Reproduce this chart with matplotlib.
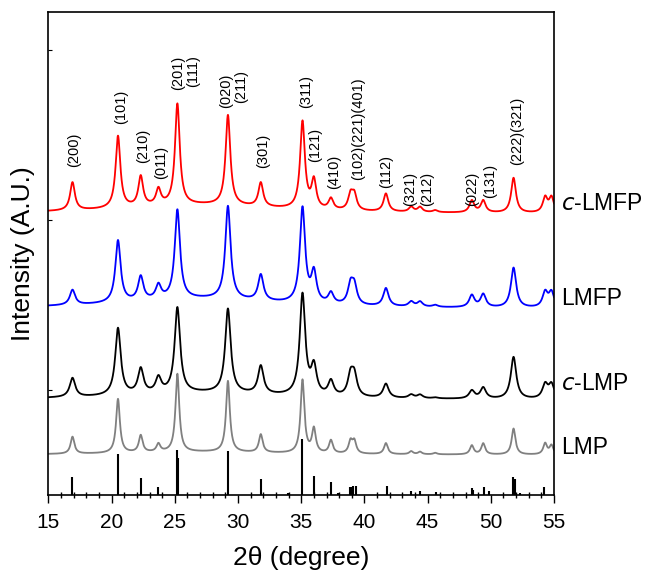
import numpy as np
import matplotlib
matplotlib.use("Agg")
import matplotlib.pyplot as plt
from matplotlib.ticker import MultipleLocator

### Peak table (2theta, degrees)

peak_pos = [16.9, 20.5, 22.3, 23.7, 25.2, 29.2, 31.8, 35.1, 36.0, 37.35,
            38.9, 39.2, 41.7, 43.7, 44.4, 45.6, 48.5, 49.4, 51.8, 54.3, 54.8]

### Peak heights per sample (offset units, above the sample baseline)

lmp_h    = [17, 54, 17, 8, 78, 71, 18, 73, 24, 13, 12, 12, 11, 3, 2.5, 1.5, 9, 11, 26, 11, 9]
c_lmp_h  = [19, 67, 25, 15, 85, 84, 28, 101, 28, 15, 20, 20, 14, 3.5, 3.5, 1, 8, 11, 42, 14, 14]
lmfp_h   = [15, 62, 24, 14, 89, 93, 26, 95, 30, 11, 19, 18, 18, 5, 5, 2, 12, 13, 40, 15, 15]
c_lmfp_h = [28, 72, 30, 16, 101, 90, 24, 87, 28, 11, 15, 15, 18, 5, 5, 2, 12, 12, 35, 15, 15]

### Baselines, broad background hump, peak widths

samples = ["LMP", "c-LMP", "LMFP", "c-LMFP"]
base = [40, 95, 186, 281]
hump = [3, 7, 10, 9]
fwhm = [0.36, 0.52, 0.50, 0.45]
colors = ["#808080", "#000000", "#0000ff", "#ff0000"]
label_y = [48, 112, 197, 292]

### Reference pattern sticks

stick_pos = [16.9, 20.5, 22.3, 23.7, 25.18, 25.27, 29.2, 31.8, 33.95, 35.1, 36.0,
             37.35, 37.9, 38.85, 38.99, 39.11, 39.3, 41.76, 43.68, 44.39, 45.63,
             48.48, 48.61, 49.43, 49.85, 51.77, 51.91, 52.3, 54.2]
stick_h = [18, 41, 17, 8, 45, 37, 44, 16, 2, 56, 19,
           13, 2, 8, 8, 9, 9, 9, 4, 4, 3,
           7, 5, 8, 4, 18, 16, 2, 8]

### Miller index labels

hkl_text = ["(200)", "(101)", "(210)", "(011)", "(201)", "(111)", "(020)", "(211)",
            "(301)", "(311)", "(121)", "(410)", "(102)(221)(401)", "(112)", "(321)",
            "(212)", "(022)", "(131)", "(222)(321)"]
hkl_x = [17.04, 20.74, 22.5, 23.95, 25.27, 26.46, 29.04, 30.28, 31.95, 35.35,
         36.1, 37.6, 39.5, 41.7, 43.65, 44.97, 48.56, 49.93, 52.12]
hkl_y = [328, 371, 332, 316, 405, 408, 387, 392, 327, 387,
         333, 306, 315, 307, 289, 289, 289, 297, 330]


def profile(x, pos, hts, w):
  y = np.zeros_like(x)
  for p, h in zip(pos, hts):
    y += h / (1.0 + ((x - p) / (w / 2.0)) ** 2)
  return y


x = np.linspace(15, 55, 4001)
heights = [lmp_h, c_lmp_h, lmfp_h, c_lmfp_h]

plt.rcParams['font.family'] = ['Liberation Sans', 'DejaVu Sans']

fig = plt.figure(figsize=(6.49, 5.76), dpi=100)
ax = fig.add_axes([0.0747, 0.1406, 0.7789, 0.8385])

for i in range(4):
  y = base[i] + profile(x, [27.0], [hump[i]], 16.0) + profile(x, peak_pos, heights[i], fwhm[i])
  ax.plot(x, y, color=colors[i], lw=1.3)

ax.vlines(stick_pos, 0, stick_h, color="k", lw=1.5)

for t, px, py in zip(hkl_text, hkl_x, hkl_y):
  ax.text(px, py, t, rotation=90, ha="center", va="bottom", fontsize=10.5)

### sample names outside the right spine
for i in range(4):
  name = samples[i]
  if name.startswith("c-"):
    name = r"$\it{c}$" + name[1:]
  ax.text(55.55, label_y[i], name, ha="left", va="center", fontsize=16.5, clip_on=False)

ax.set_xlim(15, 55)
ax.set_ylim(0, 483)
ax.xaxis.set_major_locator(MultipleLocator(5))
ax.xaxis.set_minor_locator(MultipleLocator(1))
ax.tick_params(axis="x", which="major", direction="out", length=6, width=1, labelsize=15, pad=7)
ax.tick_params(axis="x", which="minor", direction="inout", length=4, width=1)
ax.set_yticks([105, 275, 445])
ax.set_yticklabels([])
ax.tick_params(axis="y", direction="in", length=3, width=0.8)

ax.set_xlabel("2θ (degree)", fontsize=19, labelpad=10)
ax.set_ylabel("Intensity (A.U.)", fontsize=19, labelpad=6)

for s in ax.spines.values():
  s.set_linewidth(1.2)

fig.savefig("out.png", dpi=100)
